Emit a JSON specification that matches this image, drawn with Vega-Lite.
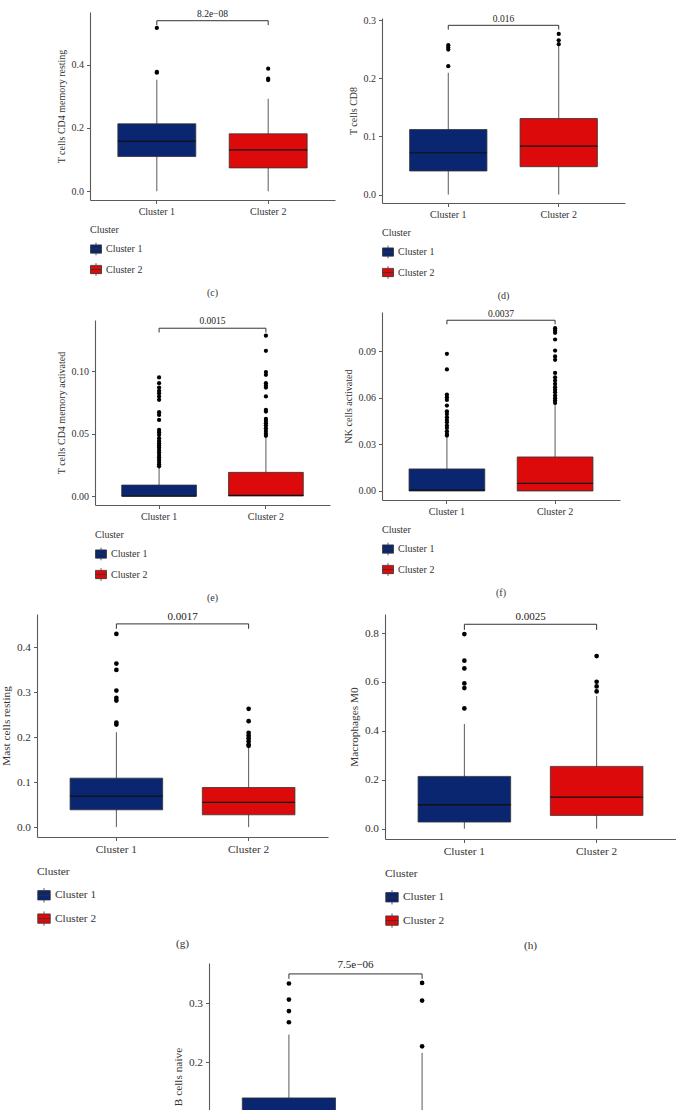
{
"$schema": "https://vega.github.io/schema/vega-lite/v6.json",
"padding": {"left": 0, "top": 9, "right": 0, "bottom": 0},
"background": "white",
"config": {
 "view": {"stroke": null},
 "font": "Liberation Serif",
 "axis": {"domainColor": "#5a5a5a", "tickColor": "#5a5a5a", "domainWidth": 1.1, "tickWidth": 1, "tickSize": 3.5, "labelColor": "#333", "titleColor": "#333", "titleFontWeight": "normal", "grid": false, "labelPadding": 3, "titlePadding": 5},
 "axisX": {"labelAngle": 0},
 "legend": {"orient": "bottom", "direction": "vertical", "symbolType": "M-1,-0.75H1V0.75H-1Z M-1,0H1 M0,-0.75V-1.15 M0,0.75V1.15", "symbolStrokeColor": "#333", "symbolStrokeWidth": 0.8, "titleFontWeight": "normal", "titleColor": "#333", "labelColor": "#333", "labelOffset": 4, "offset": 8},
 "title": {"fontWeight": "normal", "color": "#333"}
},
"datasets": {
 "stats": [
  {"panel": "c", "cluster": "Cluster 1", "lo": 0, "q1": 0.1098, "med": 0.1583, "q3": 0.2132, "hi": 0.3525},
  {"panel": "c", "cluster": "Cluster 2", "lo": 0, "q1": 0.0739, "med": 0.1309, "q3": 0.1815, "hi": 0.2923},
  {"panel": "d", "cluster": "Cluster 1", "lo": 0, "q1": 0.0406, "med": 0.072, "q3": 0.112, "hi": 0.2097},
  {"panel": "d", "cluster": "Cluster 2", "lo": 0, "q1": 0.048, "med": 0.0834, "q3": 0.1309, "hi": 0.256},
  {"panel": "e", "cluster": "Cluster 1", "lo": 0, "q1": 0, "med": 0, "q3": 0.0088, "hi": 0.0235},
  {"panel": "e", "cluster": "Cluster 2", "lo": 0, "q1": 0, "med": 0.0005, "q3": 0.019, "hi": 0.047},
  {"panel": "f", "cluster": "Cluster 1", "lo": 0, "q1": 0, "med": 0.0005, "q3": 0.0142, "hi": 0.0346},
  {"panel": "f", "cluster": "Cluster 2", "lo": 0, "q1": 0, "med": 0.0049, "q3": 0.0219, "hi": 0.0556},
  {"panel": "g", "cluster": "Cluster 1", "lo": 0, "q1": 0.0385, "med": 0.0689, "q3": 0.1089, "hi": 0.211},
  {"panel": "g", "cluster": "Cluster 2", "lo": 0, "q1": 0.0274, "med": 0.0548, "q3": 0.0881, "hi": 0.178},
  {"panel": "h", "cluster": "Cluster 1", "lo": 0, "q1": 0.0273, "med": 0.098, "q3": 0.214, "hi": 0.428},
  {"panel": "h", "cluster": "Cluster 2", "lo": 0, "q1": 0.0545, "med": 0.1295, "q3": 0.2549, "hi": 0.5424},
  {"panel": "i", "cluster": "Cluster 1", "lo": 0, "q1": 0.025, "med": 0.065, "q3": 0.139, "hi": 0.247},
  {"panel": "i", "cluster": "Cluster 2", "lo": 0, "q1": 0.012, "med": 0.045, "q3": 0.098, "hi": 0.216}
 ],
 "outliers": [
  {"panel": "c", "cluster": "Cluster 1", "v": 0.516}, {"panel": "c", "cluster": "Cluster 1", "v": 0.377}, {"panel": "c", "cluster": "Cluster 1", "v": 0.3747},
  {"panel": "c", "cluster": "Cluster 2", "v": 0.3873}, {"panel": "c", "cluster": "Cluster 2", "v": 0.3557}, {"panel": "c", "cluster": "Cluster 2", "v": 0.3515},
  {"panel": "d", "cluster": "Cluster 1", "v": 0.2571}, {"panel": "d", "cluster": "Cluster 1", "v": 0.2531}, {"panel": "d", "cluster": "Cluster 1", "v": 0.2497}, {"panel": "d", "cluster": "Cluster 1", "v": 0.2211},
  {"panel": "d", "cluster": "Cluster 2", "v": 0.2766}, {"panel": "d", "cluster": "Cluster 2", "v": 0.2657}, {"panel": "d", "cluster": "Cluster 2", "v": 0.2589},
  {"panel": "e", "cluster": "Cluster 1", "v": 0.0952}, {"panel": "e", "cluster": "Cluster 1", "v": 0.0906}, {"panel": "e", "cluster": "Cluster 1", "v": 0.0871}, {"panel": "e", "cluster": "Cluster 1", "v": 0.0845}, {"panel": "e", "cluster": "Cluster 1", "v": 0.0826}, {"panel": "e", "cluster": "Cluster 1", "v": 0.0799}, {"panel": "e", "cluster": "Cluster 1", "v": 0.0772}, {"panel": "e", "cluster": "Cluster 1", "v": 0.0673}, {"panel": "e", "cluster": "Cluster 1", "v": 0.0651}, {"panel": "e", "cluster": "Cluster 1", "v": 0.0611}, {"panel": "e", "cluster": "Cluster 1", "v": 0.0531}, {"panel": "e", "cluster": "Cluster 1", "v": 0.0512}, {"panel": "e", "cluster": "Cluster 1", "v": 0.0491}, {"panel": "e", "cluster": "Cluster 1", "v": 0.0464}, {"panel": "e", "cluster": "Cluster 1", "v": 0.0442}, {"panel": "e", "cluster": "Cluster 1", "v": 0.0424}, {"panel": "e", "cluster": "Cluster 1", "v": 0.0405}, {"panel": "e", "cluster": "Cluster 1", "v": 0.0389}, {"panel": "e", "cluster": "Cluster 1", "v": 0.037}, {"panel": "e", "cluster": "Cluster 1", "v": 0.0351}, {"panel": "e", "cluster": "Cluster 1", "v": 0.033}, {"panel": "e", "cluster": "Cluster 1", "v": 0.0311}, {"panel": "e", "cluster": "Cluster 1", "v": 0.0292}, {"panel": "e", "cluster": "Cluster 1", "v": 0.0273}, {"panel": "e", "cluster": "Cluster 1", "v": 0.0255}, {"panel": "e", "cluster": "Cluster 1", "v": 0.0239},
  {"panel": "e", "cluster": "Cluster 2", "v": 0.1287}, {"panel": "e", "cluster": "Cluster 2", "v": 0.1166}, {"panel": "e", "cluster": "Cluster 2", "v": 0.0995}, {"panel": "e", "cluster": "Cluster 2", "v": 0.0973}, {"panel": "e", "cluster": "Cluster 2", "v": 0.0906}, {"panel": "e", "cluster": "Cluster 2", "v": 0.0887}, {"panel": "e", "cluster": "Cluster 2", "v": 0.0871}, {"panel": "e", "cluster": "Cluster 2", "v": 0.0799}, {"panel": "e", "cluster": "Cluster 2", "v": 0.0692}, {"panel": "e", "cluster": "Cluster 2", "v": 0.0678}, {"panel": "e", "cluster": "Cluster 2", "v": 0.0619}, {"panel": "e", "cluster": "Cluster 2", "v": 0.0603}, {"panel": "e", "cluster": "Cluster 2", "v": 0.0584}, {"panel": "e", "cluster": "Cluster 2", "v": 0.0566}, {"panel": "e", "cluster": "Cluster 2", "v": 0.0544}, {"panel": "e", "cluster": "Cluster 2", "v": 0.0523}, {"panel": "e", "cluster": "Cluster 2", "v": 0.0501}, {"panel": "e", "cluster": "Cluster 2", "v": 0.0483},
  {"panel": "f", "cluster": "Cluster 1", "v": 0.0883}, {"panel": "f", "cluster": "Cluster 1", "v": 0.0782}, {"panel": "f", "cluster": "Cluster 1", "v": 0.0621}, {"panel": "f", "cluster": "Cluster 1", "v": 0.0604}, {"panel": "f", "cluster": "Cluster 1", "v": 0.0586}, {"panel": "f", "cluster": "Cluster 1", "v": 0.055}, {"panel": "f", "cluster": "Cluster 1", "v": 0.0513}, {"panel": "f", "cluster": "Cluster 1", "v": 0.0496}, {"panel": "f", "cluster": "Cluster 1", "v": 0.0475}, {"panel": "f", "cluster": "Cluster 1", "v": 0.0457}, {"panel": "f", "cluster": "Cluster 1", "v": 0.0442}, {"panel": "f", "cluster": "Cluster 1", "v": 0.0421}, {"panel": "f", "cluster": "Cluster 1", "v": 0.0406}, {"panel": "f", "cluster": "Cluster 1", "v": 0.0384}, {"panel": "f", "cluster": "Cluster 1", "v": 0.0367}, {"panel": "f", "cluster": "Cluster 1", "v": 0.0357},
  {"panel": "f", "cluster": "Cluster 2", "v": 0.1048}, {"panel": "f", "cluster": "Cluster 2", "v": 0.1033}, {"panel": "f", "cluster": "Cluster 2", "v": 0.1018}, {"panel": "f", "cluster": "Cluster 2", "v": 0.0975}, {"panel": "f", "cluster": "Cluster 2", "v": 0.0904}, {"panel": "f", "cluster": "Cluster 2", "v": 0.0866}, {"panel": "f", "cluster": "Cluster 2", "v": 0.0844}, {"panel": "f", "cluster": "Cluster 2", "v": 0.076}, {"panel": "f", "cluster": "Cluster 2", "v": 0.0732}, {"panel": "f", "cluster": "Cluster 2", "v": 0.0711}, {"panel": "f", "cluster": "Cluster 2", "v": 0.0689}, {"panel": "f", "cluster": "Cluster 2", "v": 0.0668}, {"panel": "f", "cluster": "Cluster 2", "v": 0.0651}, {"panel": "f", "cluster": "Cluster 2", "v": 0.0636}, {"panel": "f", "cluster": "Cluster 2", "v": 0.0614}, {"panel": "f", "cluster": "Cluster 2", "v": 0.0597}, {"panel": "f", "cluster": "Cluster 2", "v": 0.0582}, {"panel": "f", "cluster": "Cluster 2", "v": 0.0567},
  {"panel": "g", "cluster": "Cluster 1", "v": 0.4296}, {"panel": "g", "cluster": "Cluster 1", "v": 0.3637}, {"panel": "g", "cluster": "Cluster 1", "v": 0.3496}, {"panel": "g", "cluster": "Cluster 1", "v": 0.3037}, {"panel": "g", "cluster": "Cluster 1", "v": 0.2874}, {"panel": "g", "cluster": "Cluster 1", "v": 0.2815}, {"panel": "g", "cluster": "Cluster 1", "v": 0.2326}, {"panel": "g", "cluster": "Cluster 1", "v": 0.2281},
  {"panel": "g", "cluster": "Cluster 2", "v": 0.263}, {"panel": "g", "cluster": "Cluster 2", "v": 0.2356}, {"panel": "g", "cluster": "Cluster 2", "v": 0.2096}, {"panel": "g", "cluster": "Cluster 2", "v": 0.2037}, {"panel": "g", "cluster": "Cluster 2", "v": 0.1978}, {"panel": "g", "cluster": "Cluster 2", "v": 0.1911}, {"panel": "g", "cluster": "Cluster 2", "v": 0.1837}, {"panel": "g", "cluster": "Cluster 2", "v": 0.1807},
  {"panel": "h", "cluster": "Cluster 1", "v": 0.796}, {"panel": "h", "cluster": "Cluster 1", "v": 0.687}, {"panel": "h", "cluster": "Cluster 1", "v": 0.6555}, {"panel": "h", "cluster": "Cluster 1", "v": 0.594}, {"panel": "h", "cluster": "Cluster 1", "v": 0.575}, {"panel": "h", "cluster": "Cluster 1", "v": 0.492},
  {"panel": "h", "cluster": "Cluster 2", "v": 0.706}, {"panel": "h", "cluster": "Cluster 2", "v": 0.601}, {"panel": "h", "cluster": "Cluster 2", "v": 0.582}, {"panel": "h", "cluster": "Cluster 2", "v": 0.5615},
  {"panel": "i", "cluster": "Cluster 1", "v": 0.334}, {"panel": "i", "cluster": "Cluster 1", "v": 0.3066}, {"panel": "i", "cluster": "Cluster 1", "v": 0.287}, {"panel": "i", "cluster": "Cluster 1", "v": 0.268},
  {"panel": "i", "cluster": "Cluster 2", "v": 0.335}, {"panel": "i", "cluster": "Cluster 2", "v": 0.305}, {"panel": "i", "cluster": "Cluster 2", "v": 0.227}
 ],
 "brackets": [
  {"panel": "c", "cluster": "Cluster 1", "y": 0.525, "ord": 1}, {"panel": "c", "cluster": "Cluster 1", "y": 0.539, "ord": 2}, {"panel": "c", "cluster": "Cluster 2", "y": 0.539, "ord": 3}, {"panel": "c", "cluster": "Cluster 2", "y": 0.525, "ord": 4},
  {"panel": "d", "cluster": "Cluster 1", "y": 0.284, "ord": 1}, {"panel": "d", "cluster": "Cluster 1", "y": 0.2914, "ord": 2}, {"panel": "d", "cluster": "Cluster 2", "y": 0.2914, "ord": 3}, {"panel": "d", "cluster": "Cluster 2", "y": 0.284, "ord": 4},
  {"panel": "e", "cluster": "Cluster 1", "y": 0.1313, "ord": 1}, {"panel": "e", "cluster": "Cluster 1", "y": 0.1347, "ord": 2}, {"panel": "e", "cluster": "Cluster 2", "y": 0.1347, "ord": 3}, {"panel": "e", "cluster": "Cluster 2", "y": 0.1313, "ord": 4},
  {"panel": "f", "cluster": "Cluster 1", "y": 0.1073, "ord": 1}, {"panel": "f", "cluster": "Cluster 1", "y": 0.1099, "ord": 2}, {"panel": "f", "cluster": "Cluster 2", "y": 0.1099, "ord": 3}, {"panel": "f", "cluster": "Cluster 2", "y": 0.1073, "ord": 4},
  {"panel": "g", "cluster": "Cluster 1", "y": 0.441, "ord": 1}, {"panel": "g", "cluster": "Cluster 1", "y": 0.452, "ord": 2}, {"panel": "g", "cluster": "Cluster 2", "y": 0.452, "ord": 3}, {"panel": "g", "cluster": "Cluster 2", "y": 0.441, "ord": 4},
  {"panel": "h", "cluster": "Cluster 1", "y": 0.813, "ord": 1}, {"panel": "h", "cluster": "Cluster 1", "y": 0.836, "ord": 2}, {"panel": "h", "cluster": "Cluster 2", "y": 0.836, "ord": 3}, {"panel": "h", "cluster": "Cluster 2", "y": 0.813, "ord": 4},
  {"panel": "i", "cluster": "Cluster 1", "y": 0.342, "ord": 1}, {"panel": "i", "cluster": "Cluster 1", "y": 0.3504, "ord": 2}, {"panel": "i", "cluster": "Cluster 2", "y": 0.3504, "ord": 3}, {"panel": "i", "cluster": "Cluster 2", "y": 0.342, "ord": 4}
 ],
 "pvals": [
  {"panel": "c", "label": "8.2e−08", "y": 0.560},
  {"panel": "d", "label": "0.016", "y": 0.303},
  {"panel": "e", "label": "0.0015", "y": 0.1401},
  {"panel": "f", "label": "0.0037", "y": 0.1142},
  {"panel": "g", "label": "0.0017", "y": 0.468},
  {"panel": "h", "label": "0.0025", "y": 0.864},
  {"panel": "i", "label": "7.5e−06", "y": 0.365}
 ]
},
"spacing": 7,
"resolve": {"scale": {"color": "independent"}, "legend": {"color": "independent"}},
"vconcat": [
 {"spacing": 13, "resolve": {"scale": {"color": "independent"}, "legend": {"color": "independent"}},
  "hconcat": [
  {"width": 6, "height": 1, "data": {"values": []}, "mark": "point"},
  {"width": 245, "height": 188, "title": {"text": "(c)", "orient": "bottom", "offset": 10, "fontSize": 10},
   "layer": [
    {"data": {"name": "stats"}, "transform": [{"filter": "datum.panel === 'c'"}], "mark": {"type": "rule", "color": "#595959", "strokeWidth": 1},
     "encoding": {"x": {"field": "cluster", "type": "nominal", "scale": {"type": "band", "domain": ["Cluster 1", "Cluster 2"], "paddingInner": 0.3, "paddingOuter": 0.25}, "axis": {"title": null, "labelFontSize": 10}},
      "y": {"field": "lo", "type": "quantitative", "scale": {"domain": [-0.0275, 0.5665], "nice": false, "zero": false}, "axis": {"title": "T cells CD4 memory resting", "values": [0, 0.2, 0.4], "format": ".1f", "labelFontSize": 10, "titleFontSize": 10}},
      "y2": {"field": "hi"}}},
    {"data": {"name": "stats"}, "transform": [{"filter": "datum.panel === 'c'"}], "mark": {"type": "rect", "stroke": "#333", "strokeWidth": 0.8},
     "encoding": {"x": {"field": "cluster", "type": "nominal"}, "y": {"field": "q1", "type": "quantitative"}, "y2": {"field": "q3"},
      "color": {"field": "cluster", "type": "nominal", "scale": {"domain": ["Cluster 1", "Cluster 2"], "range": ["#0b2670", "#dc0a0a"]}, "legend": {"title": "Cluster", "labelFontSize": 10, "titleFontSize": 10, "symbolSize": 121, "rowPadding": 4.5, "titlePadding": 8}}}},
    {"data": {"name": "stats"}, "transform": [{"filter": "datum.panel === 'c'"}], "mark": {"type": "rect", "fillOpacity": 0, "stroke": "#111", "strokeWidth": 1.2},
     "encoding": {"x": {"field": "cluster", "type": "nominal"}, "y": {"field": "med", "type": "quantitative"}, "y2": {"field": "med"}}},
    {"data": {"name": "outliers"}, "transform": [{"filter": "datum.panel === 'c'"}], "mark": {"type": "circle", "size": 18, "color": "#000", "opacity": 1},
     "encoding": {"x": {"field": "cluster", "type": "nominal"}, "y": {"field": "v", "type": "quantitative"}}},
    {"data": {"name": "brackets"}, "transform": [{"filter": "datum.panel === 'c'"}], "mark": {"type": "line", "color": "#333", "strokeWidth": 1},
     "encoding": {"x": {"field": "cluster", "type": "nominal"}, "y": {"field": "y", "type": "quantitative"}, "order": {"field": "ord", "type": "quantitative"}}},
    {"data": {"name": "pvals"}, "transform": [{"filter": "datum.panel === 'c'"}], "mark": {"type": "text", "fontSize": 9.5, "color": "#222", "baseline": "middle"},
     "encoding": {"y": {"field": "y", "type": "quantitative"}, "text": {"field": "label"}}}
   ]},
  {"spacing": 0, "resolve": {"scale": {"color": "independent"}, "legend": {"color": "independent"}},
   "vconcat": [
   {"width": 1, "height": 0.5, "data": {"values": []}, "mark": "point"},
   {"width": 243, "height": 185, "title": {"text": "(d)", "orient": "bottom", "offset": 10, "fontSize": 10},
   "layer": [
    {"data": {"name": "stats"}, "transform": [{"filter": "datum.panel === 'd'"}], "mark": {"type": "rule", "color": "#595959", "strokeWidth": 1},
     "encoding": {"x": {"field": "cluster", "type": "nominal", "scale": {"type": "band", "domain": ["Cluster 1", "Cluster 2"], "paddingInner": 0.3, "paddingOuter": 0.25}, "axis": {"title": null, "labelFontSize": 10}},
      "y": {"field": "lo", "type": "quantitative", "scale": {"domain": [-0.0145, 0.304], "nice": false, "zero": false}, "axis": {"title": "T cells CD8", "values": [0, 0.1, 0.2, 0.3], "format": ".1f", "labelFontSize": 10, "titleFontSize": 10}},
      "y2": {"field": "hi"}}},
    {"data": {"name": "stats"}, "transform": [{"filter": "datum.panel === 'd'"}], "mark": {"type": "rect", "stroke": "#333", "strokeWidth": 0.8},
     "encoding": {"x": {"field": "cluster", "type": "nominal"}, "y": {"field": "q1", "type": "quantitative"}, "y2": {"field": "q3"},
      "color": {"field": "cluster", "type": "nominal", "scale": {"domain": ["Cluster 1", "Cluster 2"], "range": ["#0b2670", "#dc0a0a"]}, "legend": {"title": "Cluster", "labelFontSize": 10, "titleFontSize": 10, "symbolSize": 121, "rowPadding": 4.5, "titlePadding": 8}}}},
    {"data": {"name": "stats"}, "transform": [{"filter": "datum.panel === 'd'"}], "mark": {"type": "rect", "fillOpacity": 0, "stroke": "#111", "strokeWidth": 1.2},
     "encoding": {"x": {"field": "cluster", "type": "nominal"}, "y": {"field": "med", "type": "quantitative"}, "y2": {"field": "med"}}},
    {"data": {"name": "outliers"}, "transform": [{"filter": "datum.panel === 'd'"}], "mark": {"type": "circle", "size": 18, "color": "#000", "opacity": 1},
     "encoding": {"x": {"field": "cluster", "type": "nominal"}, "y": {"field": "v", "type": "quantitative"}}},
    {"data": {"name": "brackets"}, "transform": [{"filter": "datum.panel === 'd'"}], "mark": {"type": "line", "color": "#333", "strokeWidth": 1},
     "encoding": {"x": {"field": "cluster", "type": "nominal"}, "y": {"field": "y", "type": "quantitative"}, "order": {"field": "ord", "type": "quantitative"}}},
    {"data": {"name": "pvals"}, "transform": [{"filter": "datum.panel === 'd'"}], "mark": {"type": "text", "fontSize": 9.5, "color": "#222", "baseline": "middle"},
     "encoding": {"y": {"field": "y", "type": "quantitative"}, "text": {"field": "label"}}}
   ]}
  ]}
 ]},
 {"spacing": 13, "resolve": {"scale": {"color": "independent"}, "legend": {"color": "independent"}},
  "hconcat": [
  {"width": 6, "height": 1, "data": {"values": []}, "mark": "point"},
  {"spacing": 0, "resolve": {"scale": {"color": "independent"}, "legend": {"color": "independent"}},
   "vconcat": [
   {"width": 1, "height": 3.4, "data": {"values": []}, "mark": "point"},
   {"width": 235, "height": 185, "title": {"text": "(e)", "orient": "bottom", "offset": 10, "fontSize": 10},
   "layer": [
    {"data": {"name": "stats"}, "transform": [{"filter": "datum.panel === 'e'"}], "mark": {"type": "rule", "color": "#595959", "strokeWidth": 1},
     "encoding": {"x": {"field": "cluster", "type": "nominal", "scale": {"type": "band", "domain": ["Cluster 1", "Cluster 2"], "paddingInner": 0.3, "paddingOuter": 0.25}, "axis": {"title": null, "labelFontSize": 10}},
      "y": {"field": "lo", "type": "quantitative", "scale": {"domain": [-0.0072, 0.1413], "nice": false, "zero": false}, "axis": {"title": "T cells CD4 memory activated", "values": [0, 0.05, 0.1], "format": ".2f", "labelFontSize": 10, "titleFontSize": 10}},
      "y2": {"field": "hi"}}},
    {"data": {"name": "stats"}, "transform": [{"filter": "datum.panel === 'e'"}], "mark": {"type": "rect", "stroke": "#333", "strokeWidth": 0.8},
     "encoding": {"x": {"field": "cluster", "type": "nominal"}, "y": {"field": "q1", "type": "quantitative"}, "y2": {"field": "q3"},
      "color": {"field": "cluster", "type": "nominal", "scale": {"domain": ["Cluster 1", "Cluster 2"], "range": ["#0b2670", "#dc0a0a"]}, "legend": {"title": "Cluster", "labelFontSize": 10, "titleFontSize": 10, "symbolSize": 121, "rowPadding": 4.5, "titlePadding": 8}}}},
    {"data": {"name": "stats"}, "transform": [{"filter": "datum.panel === 'e'"}], "mark": {"type": "rect", "fillOpacity": 0, "stroke": "#111", "strokeWidth": 1.2},
     "encoding": {"x": {"field": "cluster", "type": "nominal"}, "y": {"field": "med", "type": "quantitative"}, "y2": {"field": "med"}}},
    {"data": {"name": "outliers"}, "transform": [{"filter": "datum.panel === 'e'"}], "mark": {"type": "circle", "size": 18, "color": "#000", "opacity": 1},
     "encoding": {"x": {"field": "cluster", "type": "nominal"}, "y": {"field": "v", "type": "quantitative"}}},
    {"data": {"name": "brackets"}, "transform": [{"filter": "datum.panel === 'e'"}], "mark": {"type": "line", "color": "#333", "strokeWidth": 1},
     "encoding": {"x": {"field": "cluster", "type": "nominal"}, "y": {"field": "y", "type": "quantitative"}, "order": {"field": "ord", "type": "quantitative"}}},
    {"data": {"name": "pvals"}, "transform": [{"filter": "datum.panel === 'e'"}], "mark": {"type": "text", "fontSize": 9.5, "color": "#222", "baseline": "middle"},
     "encoding": {"y": {"field": "y", "type": "quantitative"}, "text": {"field": "label"}}}
   ]}
  ]},
  {"width": 238, "height": 188, "title": {"text": "(f)", "orient": "bottom", "offset": 10, "fontSize": 10},
   "layer": [
    {"data": {"name": "stats"}, "transform": [{"filter": "datum.panel === 'f'"}], "mark": {"type": "rule", "color": "#595959", "strokeWidth": 1},
     "encoding": {"x": {"field": "cluster", "type": "nominal", "scale": {"type": "band", "domain": ["Cluster 1", "Cluster 2"], "paddingInner": 0.3, "paddingOuter": 0.25}, "axis": {"title": null, "labelFontSize": 10}},
      "y": {"field": "lo", "type": "quantitative", "scale": {"domain": [-0.0058, 0.1152], "nice": false, "zero": false}, "axis": {"title": "NK cells activated", "values": [0, 0.03, 0.06, 0.09], "format": ".2f", "labelFontSize": 10, "titleFontSize": 10}},
      "y2": {"field": "hi"}}},
    {"data": {"name": "stats"}, "transform": [{"filter": "datum.panel === 'f'"}], "mark": {"type": "rect", "stroke": "#333", "strokeWidth": 0.8},
     "encoding": {"x": {"field": "cluster", "type": "nominal"}, "y": {"field": "q1", "type": "quantitative"}, "y2": {"field": "q3"},
      "color": {"field": "cluster", "type": "nominal", "scale": {"domain": ["Cluster 1", "Cluster 2"], "range": ["#0b2670", "#dc0a0a"]}, "legend": {"title": "Cluster", "labelFontSize": 10, "titleFontSize": 10, "symbolSize": 121, "rowPadding": 4.5, "titlePadding": 8}}}},
    {"data": {"name": "stats"}, "transform": [{"filter": "datum.panel === 'f'"}], "mark": {"type": "rect", "fillOpacity": 0, "stroke": "#111", "strokeWidth": 1.2},
     "encoding": {"x": {"field": "cluster", "type": "nominal"}, "y": {"field": "med", "type": "quantitative"}, "y2": {"field": "med"}}},
    {"data": {"name": "outliers"}, "transform": [{"filter": "datum.panel === 'f'"}], "mark": {"type": "circle", "size": 18, "color": "#000", "opacity": 1},
     "encoding": {"x": {"field": "cluster", "type": "nominal"}, "y": {"field": "v", "type": "quantitative"}}},
    {"data": {"name": "brackets"}, "transform": [{"filter": "datum.panel === 'f'"}], "mark": {"type": "line", "color": "#333", "strokeWidth": 1},
     "encoding": {"x": {"field": "cluster", "type": "nominal"}, "y": {"field": "y", "type": "quantitative"}, "order": {"field": "ord", "type": "quantitative"}}},
    {"data": {"name": "pvals"}, "transform": [{"filter": "datum.panel === 'f'"}], "mark": {"type": "text", "fontSize": 9.5, "color": "#222", "baseline": "middle"},
     "encoding": {"y": {"field": "y", "type": "quantitative"}, "text": {"field": "label"}}}
   ]}
 ]},
 {"spacing": 20, "resolve": {"scale": {"color": "independent"}, "legend": {"color": "independent"}},
  "hconcat": [
  {"width": 291, "height": 223, "title": {"text": "(g)", "orient": "bottom", "offset": 10, "fontSize": 11.3},
   "layer": [
    {"data": {"name": "stats"}, "transform": [{"filter": "datum.panel === 'g'"}], "mark": {"type": "rule", "color": "#595959", "strokeWidth": 1},
     "encoding": {"x": {"field": "cluster", "type": "nominal", "scale": {"type": "band", "domain": ["Cluster 1", "Cluster 2"], "paddingInner": 0.3, "paddingOuter": 0.25}, "axis": {"title": null, "labelFontSize": 11.3}},
      "y": {"field": "lo", "type": "quantitative", "scale": {"domain": [-0.022, 0.474], "nice": false, "zero": false}, "axis": {"title": "Mast cells resting", "values": [0, 0.1, 0.2, 0.3, 0.4], "format": ".1f", "labelFontSize": 11.3, "titleFontSize": 11.3}},
      "y2": {"field": "hi"}}},
    {"data": {"name": "stats"}, "transform": [{"filter": "datum.panel === 'g'"}], "mark": {"type": "rect", "stroke": "#333", "strokeWidth": 0.8},
     "encoding": {"x": {"field": "cluster", "type": "nominal"}, "y": {"field": "q1", "type": "quantitative"}, "y2": {"field": "q3"},
      "color": {"field": "cluster", "type": "nominal", "scale": {"domain": ["Cluster 1", "Cluster 2"], "range": ["#0b2670", "#dc0a0a"]}, "legend": {"title": "Cluster", "labelFontSize": 11.3, "titleFontSize": 11.3, "symbolSize": 156, "rowPadding": 5.3, "titlePadding": 11, "offset": 11}}}},
    {"data": {"name": "stats"}, "transform": [{"filter": "datum.panel === 'g'"}], "mark": {"type": "rect", "fillOpacity": 0, "stroke": "#111", "strokeWidth": 1.3},
     "encoding": {"x": {"field": "cluster", "type": "nominal"}, "y": {"field": "med", "type": "quantitative"}, "y2": {"field": "med"}}},
    {"data": {"name": "outliers"}, "transform": [{"filter": "datum.panel === 'g'"}], "mark": {"type": "circle", "size": 22, "color": "#000", "opacity": 1},
     "encoding": {"x": {"field": "cluster", "type": "nominal"}, "y": {"field": "v", "type": "quantitative"}}},
    {"data": {"name": "brackets"}, "transform": [{"filter": "datum.panel === 'g'"}], "mark": {"type": "line", "color": "#333", "strokeWidth": 1},
     "encoding": {"x": {"field": "cluster", "type": "nominal"}, "y": {"field": "y", "type": "quantitative"}, "order": {"field": "ord", "type": "quantitative"}}},
    {"data": {"name": "pvals"}, "transform": [{"filter": "datum.panel === 'g'"}], "mark": {"type": "text", "fontSize": 11, "color": "#222", "baseline": "middle"},
     "encoding": {"y": {"field": "y", "type": "quantitative"}, "text": {"field": "label"}}}
   ]},
  {"width": 291, "height": 225, "title": {"text": "(h)", "orient": "bottom", "offset": 10, "fontSize": 11.3},
   "layer": [
    {"data": {"name": "stats"}, "transform": [{"filter": "datum.panel === 'h'"}], "mark": {"type": "rule", "color": "#595959", "strokeWidth": 1},
     "encoding": {"x": {"field": "cluster", "type": "nominal", "scale": {"type": "band", "domain": ["Cluster 1", "Cluster 2"], "paddingInner": 0.3, "paddingOuter": 0.25}, "axis": {"title": null, "labelFontSize": 11.3}},
      "y": {"field": "lo", "type": "quantitative", "scale": {"domain": [-0.042, 0.878], "nice": false, "zero": false}, "axis": {"title": "Macrophages M0", "values": [0, 0.2, 0.4, 0.6, 0.8], "format": ".1f", "labelFontSize": 11.3, "titleFontSize": 11.3}},
      "y2": {"field": "hi"}}},
    {"data": {"name": "stats"}, "transform": [{"filter": "datum.panel === 'h'"}], "mark": {"type": "rect", "stroke": "#333", "strokeWidth": 0.8},
     "encoding": {"x": {"field": "cluster", "type": "nominal"}, "y": {"field": "q1", "type": "quantitative"}, "y2": {"field": "q3"},
      "color": {"field": "cluster", "type": "nominal", "scale": {"domain": ["Cluster 1", "Cluster 2"], "range": ["#0b2670", "#dc0a0a"]}, "legend": {"title": "Cluster", "labelFontSize": 11.3, "titleFontSize": 11.3, "symbolSize": 156, "rowPadding": 5.3, "titlePadding": 11, "offset": 11}}}},
    {"data": {"name": "stats"}, "transform": [{"filter": "datum.panel === 'h'"}], "mark": {"type": "rect", "fillOpacity": 0, "stroke": "#111", "strokeWidth": 1.3},
     "encoding": {"x": {"field": "cluster", "type": "nominal"}, "y": {"field": "med", "type": "quantitative"}, "y2": {"field": "med"}}},
    {"data": {"name": "outliers"}, "transform": [{"filter": "datum.panel === 'h'"}], "mark": {"type": "circle", "size": 22, "color": "#000", "opacity": 1},
     "encoding": {"x": {"field": "cluster", "type": "nominal"}, "y": {"field": "v", "type": "quantitative"}}},
    {"data": {"name": "brackets"}, "transform": [{"filter": "datum.panel === 'h'"}], "mark": {"type": "line", "color": "#333", "strokeWidth": 1},
     "encoding": {"x": {"field": "cluster", "type": "nominal"}, "y": {"field": "y", "type": "quantitative"}, "order": {"field": "ord", "type": "quantitative"}}},
    {"data": {"name": "pvals"}, "transform": [{"filter": "datum.panel === 'h'"}], "mark": {"type": "text", "fontSize": 11, "color": "#222", "baseline": "middle"},
     "encoding": {"y": {"field": "y", "type": "quantitative"}, "text": {"field": "label"}}}
   ]}
 ]},
 {"spacing": 13, "resolve": {"scale": {"color": "independent"}, "legend": {"color": "independent"}},
  "hconcat": [
  {"width": 122, "height": 1, "data": {"values": []}, "mark": "point"},
  {"width": 293, "height": 227, "title": {"text": "(i)", "orient": "bottom", "offset": 10, "fontSize": 11.3},
   "layer": [
    {"data": {"name": "stats"}, "transform": [{"filter": "datum.panel === 'i'"}], "mark": {"type": "rule", "color": "#595959", "strokeWidth": 1},
     "encoding": {"x": {"field": "cluster", "type": "nominal", "scale": {"type": "band", "domain": ["Cluster 1", "Cluster 2"], "paddingInner": 0.3, "paddingOuter": 0.25}, "axis": {"title": null, "labelFontSize": 11.3}},
      "y": {"field": "lo", "type": "quantitative", "scale": {"domain": [-0.018, 0.369], "nice": false, "zero": false}, "axis": {"title": "B cells naive", "values": [0, 0.1, 0.2, 0.3], "format": ".1f", "labelFontSize": 11.3, "titleFontSize": 11.3}},
      "y2": {"field": "hi"}}},
    {"data": {"name": "stats"}, "transform": [{"filter": "datum.panel === 'i'"}], "mark": {"type": "rect", "stroke": "#333", "strokeWidth": 0.8},
     "encoding": {"x": {"field": "cluster", "type": "nominal"}, "y": {"field": "q1", "type": "quantitative"}, "y2": {"field": "q3"},
      "color": {"field": "cluster", "type": "nominal", "scale": {"domain": ["Cluster 1", "Cluster 2"], "range": ["#0b2670", "#dc0a0a"]}, "legend": {"title": "Cluster", "labelFontSize": 11.3, "titleFontSize": 11.3, "symbolSize": 156, "rowPadding": 5.3, "titlePadding": 11, "offset": 11}}}},
    {"data": {"name": "stats"}, "transform": [{"filter": "datum.panel === 'i'"}], "mark": {"type": "rect", "fillOpacity": 0, "stroke": "#111", "strokeWidth": 1.3},
     "encoding": {"x": {"field": "cluster", "type": "nominal"}, "y": {"field": "med", "type": "quantitative"}, "y2": {"field": "med"}}},
    {"data": {"name": "outliers"}, "transform": [{"filter": "datum.panel === 'i'"}], "mark": {"type": "circle", "size": 22, "color": "#000", "opacity": 1},
     "encoding": {"x": {"field": "cluster", "type": "nominal"}, "y": {"field": "v", "type": "quantitative"}}},
    {"data": {"name": "brackets"}, "transform": [{"filter": "datum.panel === 'i'"}], "mark": {"type": "line", "color": "#333", "strokeWidth": 1},
     "encoding": {"x": {"field": "cluster", "type": "nominal"}, "y": {"field": "y", "type": "quantitative"}, "order": {"field": "ord", "type": "quantitative"}}},
    {"data": {"name": "pvals"}, "transform": [{"filter": "datum.panel === 'i'"}], "mark": {"type": "text", "fontSize": 11, "color": "#222", "baseline": "middle"},
     "encoding": {"y": {"field": "y", "type": "quantitative"}, "text": {"field": "label"}}}
   ]}
 ]}
]
}
